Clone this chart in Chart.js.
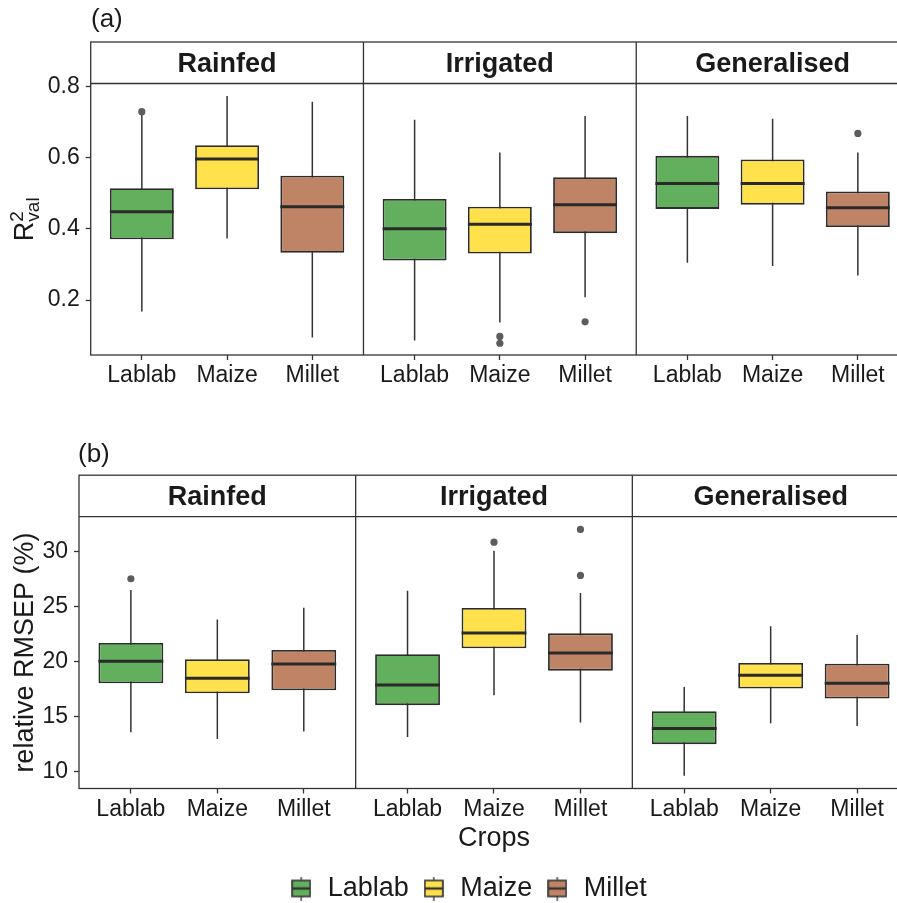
<!DOCTYPE html>
<html><head><meta charset="utf-8">
<script src="https://cdn.jsdelivr.net/npm/chart.js@4.4.1/dist/chart.umd.min.js"></script>
<style>
html,body{margin:0;padding:0;background:#fff;overflow:hidden;width:897px;height:903px}
#wrap{position:relative;width:935px;height:912px}
canvas{position:absolute;left:0}
</style></head><body>
<div id="wrap">
<canvas id="chartA" width="935" height="400" style="top:0px"></canvas>
<canvas id="chartB" width="935" height="512" style="top:400px"></canvas>
</div>
<script>
// ---------------- data ----------------
const facets = ['Rainfed', 'Irrigated', 'Generalised'];
const crops = ['Lablab', 'Maize', 'Millet'];

// (a) R²val, order: Rainfed (Lablab, Maize, Millet), Irrigated (...), Generalised (...)
const r2Min = [0.168, 0.373, 0.095, 0.087, 0.137, 0.208, 0.305, 0.296, 0.269];
const r2Q1  = [0.371, 0.511, 0.333, 0.311, 0.331, 0.388, 0.456, 0.468, 0.405];
const r2Med = [0.448, 0.596, 0.462, 0.400, 0.413, 0.468, 0.527, 0.527, 0.459];
const r2Q3  = [0.514, 0.635, 0.549, 0.484, 0.462, 0.545, 0.605, 0.595, 0.505];
const r2Max = [0.720, 0.773, 0.757, 0.706, 0.614, 0.717, 0.717, 0.709, 0.614];
const r2Outliers = [[0.729], [], [], [], [0.098, 0.079], [0.139], [], [], [0.668]];
const r2Ticks = [0.2, 0.4, 0.6, 0.8];

// (b) relative RMSEP (%)
const rmMin = [13.58, 12.95, 13.64, 13.13, 16.95, 14.45, 9.61, 14.40, 14.15];
const rmQ1  = [18.04, 17.13, 17.40, 16.04, 21.22, 19.18, 12.49, 17.55, 16.64];
const rmMed = [20.04, 18.49, 19.79, 17.88, 22.61, 20.79, 13.91, 18.76, 18.04];
const rmQ3  = [21.70, 20.22, 21.06, 20.67, 24.88, 22.58, 15.49, 19.88, 19.82];
const rmMax = [26.52, 23.85, 24.91, 26.45, 30.09, 26.25, 17.70, 23.22, 22.43];
const rmOutliers = [[27.55], [], [], [], [30.88], [32.04, 27.85], [], [], []];
const rmTicks = [10, 15, 20, 25, 30];

// ---------------- styles / layout ----------------
const FONT = '"Liberation Sans", Arial, Helvetica, sans-serif';
const cropColors = ['#62AF5E', '#FFE24B', '#BF8466'];
const INK = '#1a1a1a';
const LINE = '#333333';
const BOXLINE = '#2c2c2c';
const FIRST = 0.4, FACET_W = 3.2, HALF = 0.375;

Chart.defaults.font.family = FONT;
Chart.defaults.color = INK;

const facetPlugin = {
  id: 'facets',
  afterDraw(chart, args, o) {
    const {ctx, chartArea: a} = chart;
    const xs = chart.scales.x;
    const top = a.top - o.stripH;
    ctx.save();
    ctx.strokeStyle = LINE;
    ctx.lineWidth = 1.3;
    ctx.strokeRect(a.left, top, a.right - a.left, a.bottom - top);
    ctx.beginPath(); ctx.moveTo(a.left, a.top); ctx.lineTo(a.right, a.top); ctx.stroke();
    for (let f = 1; f < facets.length; f++) {
      const px = xs.getPixelForValue(FIRST + f * FACET_W);
      ctx.beginPath(); ctx.moveTo(px, top); ctx.lineTo(px, a.bottom); ctx.stroke();
    }
    ctx.fillStyle = INK;
    ctx.font = 'bold 27px ' + FONT;
    ctx.textAlign = 'center';
    ctx.textBaseline = 'middle';
    facets.forEach((f, fi) => {
      ctx.fillText(f, xs.getPixelForValue(FIRST + fi * FACET_W + FACET_W / 2), top + o.stripH / 2 + 2);
    });
    ctx.font = '26px ' + FONT;
    ctx.textAlign = 'left';
    ctx.fillText(o.tag, o.tagX, o.tagY);
    if (o.richTitle) {
      ctx.translate(o.richTitle.x, (a.top + a.bottom) / 2);
      ctx.rotate(-Math.PI / 2);
      ctx.textBaseline = 'alphabetic';
      ctx.font = '27px ' + FONT;
      const wR = ctx.measureText('R').width;
      ctx.font = '19px ' + FONT;
      const wS = Math.max(ctx.measureText('2').width, ctx.measureText('val').width);
      const x0 = -(wR + wS) / 2;
      ctx.font = '27px ' + FONT;
      ctx.fillText('R', x0, 0);
      ctx.font = '19px ' + FONT;
      ctx.fillText('2', x0 + wR, -10);
      ctx.fillText('val', x0 + wR, 6);
    }
    ctx.restore();
  }
};

function glyph(i) {
  const c = document.createElement('canvas');
  c.width = 20; c.height = 24;
  const g = c.getContext('2d');
  g.strokeStyle = LINE; g.lineWidth = 1.3;
  g.beginPath(); g.moveTo(10, 0); g.lineTo(10, 24); g.stroke();
  g.fillStyle = cropColors[i];
  g.fillRect(1, 4, 18, 16);
  g.lineWidth = 1.6;
  g.strokeRect(1, 4, 18, 16);
  g.lineWidth = 2.4;
  g.beginPath(); g.moveTo(1, 12); g.lineTo(19, 12); g.stroke();
  return c;
}

function buildPanel(canvas, p) {
  const pos = [];
  facets.forEach((f, fi) => crops.forEach((c, ci) => pos.push(FIRST + fi * FACET_W + 0.6 + ci)));
  const whisk = [], meds = [], outs = [], boxes = [];
  pos.forEach((x, i) => {
    whisk.push({x, y: p.min[i]}, {x, y: p.max[i]}, {x, y: null});
    meds.push({x: x - HALF, y: p.med[i]}, {x: x + HALF, y: p.med[i]}, {x, y: null});
    boxes.push({x, y: [p.q1[i], p.q3[i]]});
    p.out[i].forEach(v => outs.push({x, y: v}));
  });
  const boxColors = pos.map((_, i) => cropColors[i % crops.length]);

  return new Chart(canvas, {
    type: 'bar',
    data: {
      datasets: [
        {type: 'line', data: whisk, borderColor: LINE, borderWidth: 1.5, pointRadius: 0,
         spanGaps: false, fill: false, tension: 0, order: 3},
        {type: 'bar', data: boxes, backgroundColor: boxColors, borderColor: BOXLINE, borderWidth: 1.8,
         borderSkipped: false, barPercentage: 0.75, categoryPercentage: 1, order: 2},
        {type: 'line', data: meds, borderColor: '#2a2a2a', borderWidth: 3, pointRadius: 0,
         borderCapStyle: 'butt', spanGaps: false, fill: false, tension: 0, order: 1},
        {type: 'scatter', data: outs, backgroundColor: '#5c5c5c', borderWidth: 0, pointRadius: 3.6, order: 0}
      ]
    },
    options: {
      responsive: false,
      animation: false,
      devicePixelRatio: 1,
      events: [],
      layout: {padding: {top: p.padTop, left: 0, right: 0, bottom: 0}},
      scales: {
        x: {
          type: 'linear', min: FIRST, max: FIRST + FACET_W * facets.length, offset: false,
          afterBuildTicks: s => { s.ticks = pos.map(v => ({value: v})); },
          afterFit: s => { s.height = p.xH; },
          ticks: {autoSkip: false, maxRotation: 0, padding: 2, color: INK,
                  font: {size: 23}, callback: (v, i) => crops[i % crops.length]},
          grid: {display: true, offset: false, drawOnChartArea: false, drawTicks: true, tickLength: 5,
                 tickColor: LINE, tickWidth: 1.3},
          border: {display: false},
          title: p.xTitle ? {display: true, text: p.xTitle, color: INK, font: {size: 27},
                             padding: {top: 0, bottom: p.xTitlePadBottom}} : {display: false}
        },
        y: {
          type: 'linear', position: 'left', min: p.yMin, max: p.yMax,
          afterBuildTicks: s => { s.ticks = p.ticks.map(v => ({value: v})); },
          afterFit: s => { s.width = p.yW; },
          ticks: {padding: 6, color: INK, font: {size: 23}, callback: p.tickFmt},
          grid: {display: true, drawOnChartArea: false, drawTicks: true, tickLength: 5,
                 tickColor: LINE, tickWidth: 1.3},
          border: {display: false},
          title: p.yTitle ? {display: true, text: p.yTitle, color: INK, font: {size: 27},
                             padding: {top: 9, bottom: 0}} : {display: false}
        },
        yr: {
          type: 'linear', position: 'right', display: true,
          afterFit: s => { s.width = 26; },
          ticks: {display: false}, grid: {display: false}, border: {display: false}
        }
      },
      plugins: {
        tooltip: {enabled: false},
        legend: p.legend ? {
          display: true, position: 'bottom',
          labels: {
            usePointStyle: true, boxWidth: 26, boxHeight: 27, padding: 12,
            color: INK, font: {size: 27},
            generateLabels: () => crops.map((c, i) => ({
              text: c, pointStyle: glyph(i), fillStyle: cropColors[i], strokeStyle: LINE,
              lineWidth: 0, hidden: false, datasetIndex: 1, fontColor: INK
            }))
          }
        } : {display: false},
        facets: {stripH: 41.5, tag: p.tag, tagX: p.tagX, tagY: p.tagY, richTitle: p.richTitle}
      }
    },
    plugins: [facetPlugin]
  });
}

buildPanel(document.getElementById('chartA'), {
  min: r2Min, q1: r2Q1, med: r2Med, q3: r2Q3, max: r2Max, out: r2Outliers,
  ticks: r2Ticks, yMin: 0.046, yMax: 0.808, tickFmt: v => v.toFixed(1),
  padTop: 83.5, yW: 90.7, xH: 45, tag: '(a)', tagX: 91, tagY: 20,
  richTitle: {x: 33}, legend: false
});

buildPanel(document.getElementById('chartB'), {
  min: rmMin, q1: rmQ1, med: rmMed, q3: rmQ3, max: rmMax, out: rmOutliers,
  ticks: rmTicks, yMin: 8.45, yMax: 33.2, tickFmt: v => String(v),
  padTop: 116.7, yW: 79, xH: 74.5, xTitle: 'Crops', xTitlePadBottom: 8,
  yTitle: 'relative RMSEP (%)', tag: '(b)', tagX: 78, tagY: 55, legend: true
});
</script>
</body></html>
